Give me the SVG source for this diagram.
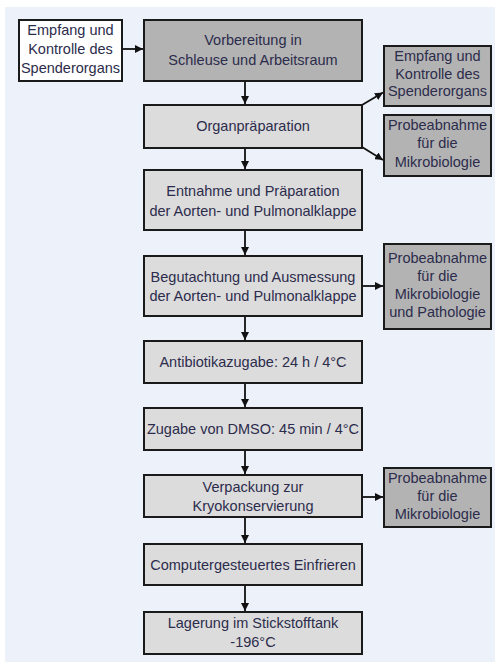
<svg xmlns="http://www.w3.org/2000/svg" width="496" height="662" viewBox="0 0 496 662">
<style>
text{font-family:"Liberation Sans",Arial,sans-serif;font-size:14.5px;fill:#2c2c4c;text-anchor:middle}
.box rect{stroke:#1a1a1a;stroke-width:2}
.light rect{fill:#dcdcdc}
.dark rect{fill:#b3b3b3}
.white rect{fill:#ffffff}
.conn line{stroke:#111;stroke-width:1.8;fill:none}
</style>
<defs>
<marker id="ah" viewBox="0 0 10 10" refX="10" refY="5" markerWidth="8" markerHeight="8" markerUnits="userSpaceOnUse" orient="auto">
<path d="M0,0 L10,5 L0,10 Z" fill="#111"/>
</marker>
</defs>
<rect x="0" y="0" width="496" height="662" fill="#ffffff"/>
<rect x="5" y="7" width="490" height="655" fill="#edf1f9"/>

<g id="connectors" class="conn">
<line x1="122" y1="49" x2="143" y2="49" marker-end="url(#ah)"/>
<line x1="245" y1="81" x2="245" y2="104" marker-end="url(#ah)"/>
<line x1="362" y1="105" x2="383" y2="92.5" marker-end="url(#ah)"/>
<line x1="362" y1="147" x2="383" y2="160" marker-end="url(#ah)"/>
<line x1="245" y1="148" x2="245" y2="169" marker-end="url(#ah)"/>
<line x1="245" y1="230" x2="245" y2="255" marker-end="url(#ah)"/>
<line x1="362" y1="286" x2="383" y2="286" marker-end="url(#ah)"/>
<line x1="245" y1="316" x2="245" y2="340" marker-end="url(#ah)"/>
<line x1="245" y1="383" x2="245" y2="407" marker-end="url(#ah)"/>
<line x1="245" y1="450" x2="245" y2="474" marker-end="url(#ah)"/>
<line x1="362" y1="497" x2="383" y2="497" marker-end="url(#ah)"/>
<line x1="245" y1="517" x2="245" y2="543" marker-end="url(#ah)"/>
<line x1="245" y1="585" x2="245" y2="611" marker-end="url(#ah)"/>
</g>

<g id="n-empfang-left" class="box white">
<rect x="19" y="20" width="103" height="61"/>
<text x="70.5" y="35">Empfang und</text>
<text x="70.5" y="54">Kontrolle des</text>
<text x="70.5" y="73">Spenderorgans</text>
</g>

<g id="n-vorbereitung" class="box dark">
<rect x="144" y="20" width="218" height="61"/>
<text x="253" y="45">Vorbereitung in</text>
<text x="253" y="64.5">Schleuse und Arbeitsraum</text>
</g>

<g id="n-empfang-right" class="box dark">
<rect x="384" y="46" width="107" height="60"/>
<text x="437.5" y="61">Empfang und</text>
<text x="437.5" y="78.5">Kontrolle des</text>
<text x="437.5" y="96">Spenderorgans</text>
</g>

<g id="n-organpraeparation" class="box light">
<rect x="144" y="105" width="218" height="43"/>
<text x="253" y="131">Organpräparation</text>
</g>

<g id="n-probe1" class="box dark">
<rect x="384" y="115" width="107" height="61"/>
<text x="437.5" y="130">Probeabnahme</text>
<text x="437.5" y="148">für die</text>
<text x="437.5" y="166.5">Mikrobiologie</text>
</g>

<g id="n-entnahme" class="box light">
<rect x="144" y="170" width="218" height="60"/>
<text x="253" y="196">Entnahme und Präparation</text>
<text x="253" y="215.5">der Aorten- und Pulmonalklappe</text>
</g>

<g id="n-begutachtung" class="box light">
<rect x="144" y="256" width="218" height="60"/>
<text x="253" y="282">Begutachtung und Ausmessung</text>
<text x="253" y="301">der Aorten- und Pulmonalklappe</text>
</g>

<g id="n-probe2" class="box dark">
<rect x="384" y="244" width="107" height="85"/>
<text x="437.5" y="263">Probeabnahme</text>
<text x="437.5" y="281">für die</text>
<text x="437.5" y="299">Mikrobiologie</text>
<text x="437.5" y="317">und Pathologie</text>
</g>

<g id="n-antibiotika" class="box light">
<rect x="144" y="341" width="218" height="42"/>
<text x="253" y="366.5">Antibiotikazugabe: 24 h / 4°C</text>
</g>

<g id="n-dmso" class="box light">
<rect x="144" y="408" width="218" height="42"/>
<text x="253" y="434">Zugabe von DMSO: 45 min / 4°C</text>
</g>

<g id="n-verpackung" class="box light">
<rect x="144" y="475" width="218" height="42"/>
<text x="253" y="492">Verpackung zur</text>
<text x="253" y="510.5">Kryokonservierung</text>
</g>

<g id="n-probe3" class="box dark">
<rect x="384" y="468" width="107" height="59"/>
<text x="437.5" y="483">Probeabnahme</text>
<text x="437.5" y="501">für die</text>
<text x="437.5" y="519">Mikrobiologie</text>
</g>

<g id="n-einfrieren" class="box light">
<rect x="144" y="544" width="218" height="41"/>
<text x="253" y="569.5">Computergesteuertes Einfrieren</text>
</g>

<g id="n-lagerung" class="box light">
<rect x="144" y="612" width="218" height="42"/>
<text x="253" y="627.5">Lagerung im Stickstofftank</text>
<text x="253" y="646.5">-196°C</text>
</g>
</svg>
